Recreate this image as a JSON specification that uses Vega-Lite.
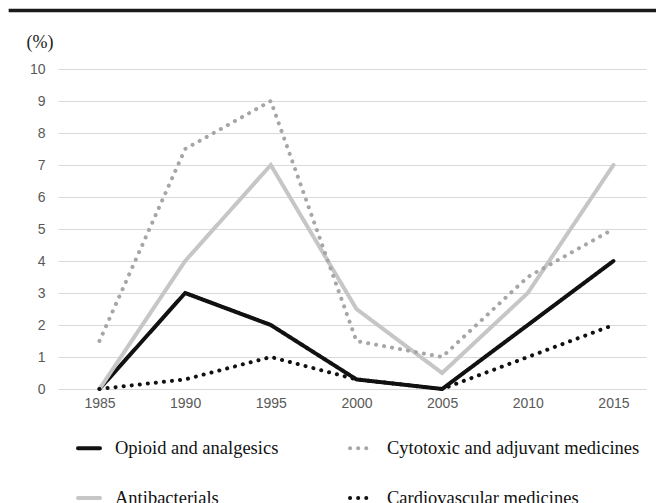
{
  "$schema": "https://vega.github.io/schema/vega-lite/v6.json",
  "autosize": {"type": "none"},
  "padding": {"left": 58, "top": 69, "right": 10, "bottom": 114},
  "width": 588,
  "height": 320,
  "background": "white",
  "config": {
    "view": {"stroke": null},
    "axis": {"labelFont": "Liberation Sans", "labelFontSize": 14, "labelColor": "#595959", "ticks": false, "gridColor": "#d9d9d9", "gridWidth": 1, "labelOverlap": false}
  },
  "datasets": {
    "main": [
      {"year": 1985, "value": 0, "series": "Opioid and analgesics"},
      {"year": 1990, "value": 3, "series": "Opioid and analgesics"},
      {"year": 1995, "value": 2, "series": "Opioid and analgesics"},
      {"year": 2000, "value": 0.3, "series": "Opioid and analgesics"},
      {"year": 2005, "value": 0, "series": "Opioid and analgesics"},
      {"year": 2010, "value": 2, "series": "Opioid and analgesics"},
      {"year": 2015, "value": 4, "series": "Opioid and analgesics"},
      {"year": 1985, "value": 0, "series": "Antibacterials"},
      {"year": 1990, "value": 4, "series": "Antibacterials"},
      {"year": 1995, "value": 7, "series": "Antibacterials"},
      {"year": 2000, "value": 2.5, "series": "Antibacterials"},
      {"year": 2005, "value": 0.5, "series": "Antibacterials"},
      {"year": 2010, "value": 3, "series": "Antibacterials"},
      {"year": 2015, "value": 7, "series": "Antibacterials"},
      {"year": 1985, "value": 1.5, "series": "Cytotoxic and adjuvant medicines"},
      {"year": 1990, "value": 7.5, "series": "Cytotoxic and adjuvant medicines"},
      {"year": 1995, "value": 9, "series": "Cytotoxic and adjuvant medicines"},
      {"year": 2000, "value": 1.5, "series": "Cytotoxic and adjuvant medicines"},
      {"year": 2005, "value": 1, "series": "Cytotoxic and adjuvant medicines"},
      {"year": 2010, "value": 3.5, "series": "Cytotoxic and adjuvant medicines"},
      {"year": 2015, "value": 5, "series": "Cytotoxic and adjuvant medicines"},
      {"year": 1985, "value": 0, "series": "Cardiovascular medicines"},
      {"year": 1990, "value": 0.3, "series": "Cardiovascular medicines"},
      {"year": 1995, "value": 1, "series": "Cardiovascular medicines"},
      {"year": 2000, "value": 0.3, "series": "Cardiovascular medicines"},
      {"year": 2005, "value": 0, "series": "Cardiovascular medicines"},
      {"year": 2010, "value": 1, "series": "Cardiovascular medicines"},
      {"year": 2015, "value": 2, "series": "Cardiovascular medicines"}
    ],
    "frame": [{"year": 1979.7, "year2": 2017.5, "value": 11.83}]
  },
  "encoding": {
    "x": {
      "field": "year", "type": "quantitative",
      "scale": {"domain": [1982.58, 2016.9], "nice": false, "zero": false},
      "axis": {"values": [1985, 1990, 1995, 2000, 2005, 2010, 2015], "format": "d", "title": null, "grid": false, "domain": true, "domainColor": "#d9d9d9", "domainWidth": 1, "labelPadding": 7}
    },
    "y": {
      "field": "value", "type": "quantitative",
      "scale": {"domain": [0, 10], "nice": false},
      "axis": {"values": [0,1,2,3,4,5,6,7,8,9,10], "domain": false, "grid": true, "labelPadding": 13, "title": "(%)", "titleAngle": 0, "titleAlign": "left", "titleBaseline": "middle", "titleX": -32, "titleY": -27, "titleFont": "Liberation Serif", "titleFontSize": 18, "titleFontWeight": "normal", "titleColor": "#222"}
    }
  },
  "layer": [
    {
      "data": {"name": "main"},
      "mark": {"type": "line", "strokeWidth": 4, "strokeCap": "round", "strokeJoin": "miter", "clip": false},
      "encoding": {
        "color": {
          "field": "series", "type": "nominal",
          "scale": {
            "domain": ["Opioid and analgesics", "Cytotoxic and adjuvant medicines", "Antibacterials", "Cardiovascular medicines"],
            "range": ["#111111", "#a6a6a6", "#c6c6c6", "#111111"]
          },
          "legend": {
            "title": null, "orient": "none", "legendX": 18, "legendY": 366, "columns": 2, "direction": "horizontal",
            "symbolType": "stroke", "symbolSize": 484, "symbolStrokeWidth": 4, "labelFont": "Liberation Serif", "labelFontSize": 18.5, "labelColor": "#111", "labelOffset": 13, "columnPadding": 63, "rowPadding": 27, "labelLimit": 400,
            "encode": {"symbols": {"update": {"strokeCap": {"value": "round"}}}}
          }
        },
        "strokeDash": {
          "field": "series", "type": "nominal",
          "scale": {
            "domain": ["Opioid and analgesics", "Cytotoxic and adjuvant medicines", "Antibacterials", "Cardiovascular medicines"],
            "range": [[1, 0], [0.1, 8], [1, 0], [0.1, 8]]
          },
          "legend": {
            "title": null, "orient": "none", "legendX": 18, "legendY": 366, "columns": 2, "direction": "horizontal",
            "symbolType": "stroke", "symbolSize": 484, "symbolStrokeWidth": 4, "labelFont": "Liberation Serif", "labelFontSize": 18.5, "labelColor": "#111", "labelOffset": 13, "columnPadding": 63, "rowPadding": 27, "labelLimit": 400,
            "encode": {"symbols": {"update": {"strokeCap": {"value": "round"}}}}
          }
        }
      }
    },
    {
      "data": {"name": "frame"},
      "mark": {"type": "rule", "color": "#1a1a1a", "strokeWidth": 3.5, "clip": false},
      "encoding": {
        "x2": {"field": "year2"}
      }
    }
  ]
}
